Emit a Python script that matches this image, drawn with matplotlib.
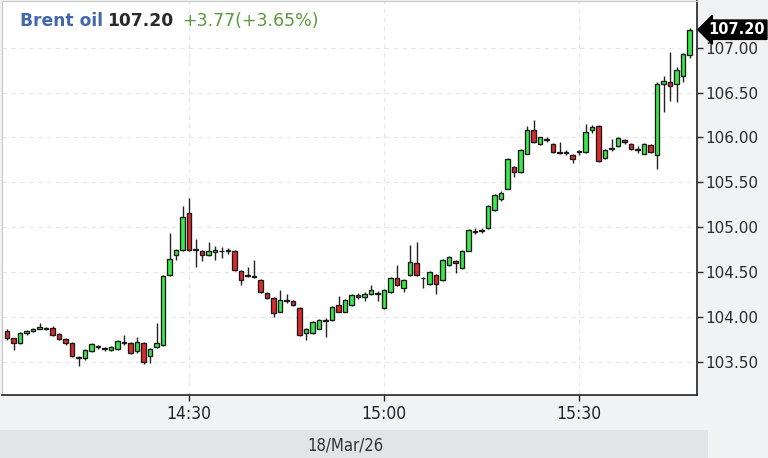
import numpy as np
import pandas as pd
import matplotlib
matplotlib.use('Agg')
import matplotlib.pyplot as plt

# --- Data: 1-minute Brent candles, 18/Mar/26 ---
START = '2026-03-18 14:02'
opens = [103.84, 103.76, 103.71, 103.82, 103.84, 103.87, 103.88, 103.88, 103.81, 103.75,
         103.71, 103.55, 103.54, 103.62, 103.68, 103.65, 103.63, 103.64, 103.71, 103.71,
         103.62, 103.71, 103.56, 103.66, 103.69, 104.47, 104.69, 104.75, 105.16, 104.75,
         104.74, 104.69, 104.72, 104.74, 104.73, 104.74, 104.51, 104.46, 104.46, 104.41,
         104.27, 104.21, 104.06, 104.18, 104.18, 104.10,
         103.82, 103.82, 103.87, 103.97, 103.97, 104.13, 104.06, 104.13, 104.24, 104.22,
         104.25, 104.27, 104.10, 104.28, 104.43, 104.32, 104.47, 104.60, 104.43, 104.37,
         104.47, 104.41, 104.58, 104.62, 104.54, 104.74,
         104.96, 104.96, 104.99, 105.19, 105.31, 105.43, 105.67, 105.61, 105.82, 106.08,
         105.93, 105.98, 105.93, 105.83, 105.84, 105.80, 105.84, 105.84, 106.08, 106.13,
         105.77, 105.87, 105.90, 105.97, 105.93, 105.87, 105.82, 105.92,
         105.80, 106.60, 106.62, 106.60, 106.68, 106.92]
highs = [103.86, 103.77, 103.83, 103.85, 103.88, 103.93, 103.89, 103.90, 103.82, 103.76,
         103.72, 103.56, 103.64, 103.71, 103.69, 103.67, 103.68, 103.74, 103.80, 103.72,
         103.78, 103.72, 103.65, 103.93, 104.47, 104.93, 104.76, 105.24, 105.32, 104.87,
         104.75, 104.84, 104.79, 104.78, 104.77, 104.75, 104.52, 104.56, 104.63, 104.42,
         104.28, 104.22, 104.30, 104.25, 104.19, 104.11,
         103.88, 103.95, 103.98, 103.99, 104.12, 104.23, 104.20, 104.25, 104.27, 104.28,
         104.36, 104.29, 104.31, 104.44, 104.58, 104.42, 104.80, 104.84, 104.45, 104.51,
         104.48, 104.64, 104.68, 104.63, 104.75, 104.98,
         104.99, 104.99, 105.25, 105.37, 105.40, 105.77, 105.68, 105.87, 106.13, 106.19,
         106.01, 106.00, 105.94, 105.95, 105.86, 105.81, 105.86, 106.15, 106.14, 106.14,
         105.87, 105.98, 106.00, 105.98, 105.94, 105.90, 105.94, 105.93,
         106.62, 106.68, 106.95, 106.78, 106.94, 107.22]
lows = [103.74, 103.63, 103.70, 103.80, 103.83, 103.86, 103.85, 103.79, 103.74, 103.69,
        103.55, 103.45, 103.52, 103.61, 103.64, 103.62, 103.62, 103.63, 103.69, 103.59,
        103.60, 103.47, 103.49, 103.65, 103.68, 104.46, 104.63, 104.74, 104.74, 104.56,
        104.62, 104.68, 104.63, 104.66, 104.70, 104.51, 104.36, 104.44, 104.43, 104.27,
        104.20, 104.00, 104.05, 104.16, 104.12, 103.79,
        103.74, 103.81, 103.86, 103.78, 103.96, 104.05, 104.05, 104.12, 104.20, 104.18,
        104.24, 104.18, 104.09, 104.27, 104.35, 104.28, 104.46, 104.46, 104.32, 104.36,
        104.26, 104.40, 104.57, 104.49, 104.53, 104.73,
        104.92, 104.94, 104.98, 105.18, 105.29, 105.42, 105.56, 105.60, 105.81, 105.94,
        105.92, 105.95, 105.83, 105.82, 105.80, 105.71, 105.80, 105.83, 106.05, 105.73,
        105.76, 105.85, 105.89, 105.93, 105.86, 105.83, 105.81, 105.83,
        105.65, 106.28, 106.41, 106.39, 106.62, 106.88]
closes = [103.77, 103.71, 103.82, 103.84, 103.87, 103.89, 103.87, 103.80, 103.75, 103.71,
          103.56, 103.54, 103.63, 103.70, 103.66, 103.64, 103.67, 103.73, 103.71, 103.60,
          103.72, 103.50, 103.64, 103.71, 104.46, 104.65, 104.75, 105.11, 104.75, 104.76,
          104.69, 104.74, 104.75, 104.73, 104.75, 104.52, 104.41, 104.47, 104.44, 104.28,
          104.21, 104.04, 104.19, 104.18, 104.13, 103.80,
          103.87, 103.94, 103.97, 103.96, 104.11, 104.06, 104.19, 104.24, 104.22, 104.25,
          104.30, 104.26, 104.30, 104.43, 104.36, 104.41, 104.61, 104.47, 104.43, 104.50,
          104.37, 104.63, 104.67, 104.60, 104.74, 104.97,
          104.95, 104.97, 105.24, 105.36, 105.38, 105.76, 105.61, 105.86, 106.08, 105.95,
          106.00, 105.97, 105.84, 105.84, 105.83, 105.76, 105.84, 106.06, 106.12, 105.74,
          105.86, 105.88, 105.99, 105.95, 105.87, 105.86, 105.93, 105.84,
          106.60, 106.63, 106.57, 106.75, 106.93, 107.20]

price_ticks = [103.50, 104.00, 104.50, 105.00, 105.50, 106.00, 106.50, 107.00]
time_ticks = ['14:30', '15:00', '15:30']
date_label = '18/Mar/26'
last_price = 107.20
change = 3.77
change_pct = 3.65

# --- Prepare ---
times = pd.date_range(START, periods=len(closes), freq='min')
x = (times.hour - 14) * 60 + times.minute
o = np.array(opens); h = np.array(highs); l = np.array(lows); c = np.array(closes)
up = c >= o
tick_x = [(int(t[:2]) - 14) * 60 + int(t[3:]) for t in time_ticks]

W, H = 768, 458
fig = plt.figure(figsize=(W / 100, H / 100), dpi=100, facecolor='#f1f2f4')
ax = fig.add_axes([2 / W, 63 / H, 695 / W, 394 / H])
ax.set_facecolor('white')

# date band under the axis
fig.patches.append(plt.Rectangle((0, 0), 708 / W, 28 / H, transform=fig.transFigure,
                                 facecolor='#e3e4e7', edgecolor='none', zorder=0))
fig.text(345 / W, 13 / H, date_label, ha='center', va='center', fontsize=12,
         fontstretch='condensed', color='#333333')

# grid
for p in price_ticks:
    ax.axhline(p, color='#e6e6e6', lw=0.8, ls=(0, (4, 4)), zorder=0)
for t in tick_x:
    ax.axvline(t, color='#e6e6e6', lw=0.8, ls=(0, (4, 4)), zorder=0)

# candles
ax.vlines(x, l, h, color='#222222', lw=1.0, zorder=2)
body_lo = np.minimum(o, c)
body_h = np.maximum(np.abs(c - o), 0.008)
ax.bar(x, body_h, bottom=body_lo, width=0.74,
       color=np.where(up, '#3ce84c', '#dc2a2a'), edgecolor='#1a1a1a', linewidth=0.95, zorder=3)

ax.set_xlim(1.23, 108.15)
ax.set_ylim(103.13, 107.52)

ax.yaxis.tick_right()
ax.set_yticks(price_ticks)
ax.set_yticklabels([f'{p:.2f}' for p in price_ticks])
ax.set_xticks(tick_x)
ax.set_xticklabels(time_ticks)
ax.tick_params(axis='y', direction='out', length=4, width=1, colors='#222222',
               labelsize=11, pad=2)
ax.tick_params(axis='x', direction='out', length=4, width=1, colors='#222222',
               labelsize=12.5, pad=3)
for lab in ax.get_xticklabels():
    lab.set_fontstretch('condensed')
for lab in ax.get_yticklabels():
    lab.set_color('#2a2a2a')

for side in ['right', 'bottom']:
    ax.spines[side].set_color('#222222')
    ax.spines[side].set_linewidth(1.2)
for side in ['left', 'top']:
    ax.spines[side].set_color('#c8c8c8')
    ax.spines[side].set_linewidth(0.8)

# last price tag
ax.annotate(f'{last_price:.2f}', xy=(1.0, last_price), xycoords=('axes fraction', 'data'),
            xytext=(8, 0), textcoords='offset points', ha='left', va='center',
            fontsize=10.5, fontweight='bold', color='white',
            bbox=dict(boxstyle='larrow,pad=0.15', fc='black', ec='black'), annotation_clip=False)

# header
ty = 1 - 20.5 / H
fig.text(20 / W, ty, 'Brent oil', color='#4466aa', fontsize=12.3, fontweight='bold', va='center')
fig.text(107 / W, ty, f'{last_price:.2f}', color='#2a2a2a', fontsize=12.3, fontweight='bold', va='center')
fig.text(182 / W, ty, f'+{change:.2f}(+{change_pct:.2f}%)', color='#5b9a3c', fontsize=12.5, va='center')

fig.savefig('out.png', dpi=100, facecolor=fig.get_facecolor())
